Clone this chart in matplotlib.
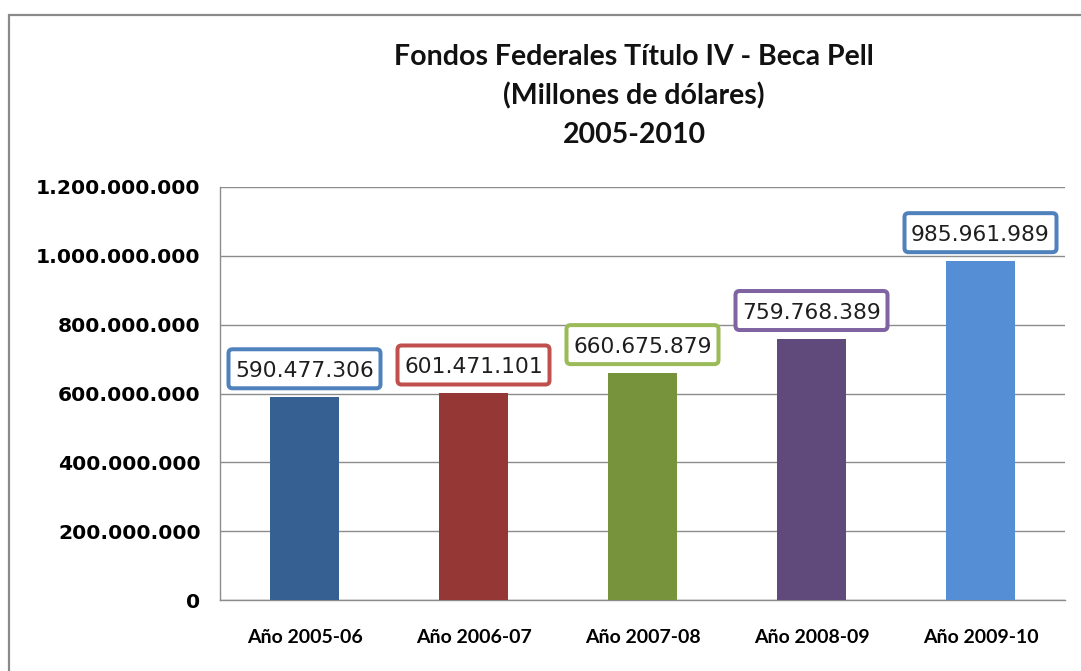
import matplotlib
matplotlib.use("Agg")
import matplotlib.pyplot as plt
from matplotlib.patches import Rectangle, FancyBboxPatch
from matplotlib.transforms import Affine2D, ScaledTranslation

categories = ["Año 2005-06", "Año 2006-07", "Año 2007-08", "Año 2008-09", "Año 2009-10"]
values = [590477306, 601471101, 660675879, 759768389, 985961989]
labels = ["590.477.306", "601.471.101", "660.675.879", "759.768.389", "985.961.989"]
bar_colors = ["#376092", "#953735", "#77933C", "#604A7B", "#558ED5"]
box_colors = ["#4F81BD", "#C0504D", "#9BBB59", "#8064A2", "#4F81BD"]
yticks = [0, 200000000, 400000000, 600000000, 800000000, 1000000000, 1200000000]
ytick_labels = ["0", "200.000.000", "400.000.000", "600.000.000", "800.000.000",
                "1.000.000.000", "1.200.000.000"]
title_lines = ["Fondos Federales Título IV - Beca Pell", "(Millones de dólares)", "2005-2010"]

W, H = 1081, 671
fig = plt.figure(figsize=(W / 100, H / 100), dpi=100)
fig.patch.set_facecolor("white")

# outer chart frame
fig.patches.append(Rectangle((9 / W, -0.1), 1.2, (H - 15) / H + 0.1, transform=fig.transFigure,
                             fill=False, edgecolor="#8a8a8a", linewidth=1.6))

left, right, top, bottom = 220, 1065, 187, 600
ax = fig.add_axes([left / W, 1 - bottom / H, (right - left) / W, (bottom - top) / H])
x = range(len(categories))
ax.bar(x, values, width=0.41, color=bar_colors, zorder=3)
ax.set_xlim(-0.5, len(categories) - 0.5)
ax.set_ylim(0, 1200000000)
ax.set_yticks(yticks)
ax.set_yticklabels(ytick_labels, fontfamily="DejaVu Sans", fontweight="bold", fontsize=14.6)
ax.set_xticks(list(x))
ax.set_xticklabels(categories, fontfamily="Lato", fontweight="bold", fontsize=14)
ax.tick_params(axis="both", length=0)
ax.tick_params(axis="y", pad=14)
ax.tick_params(axis="x", pad=21)
ax.yaxis.grid(True, color="#8c8c8c", linewidth=1.0, zorder=0)
ax.set_axisbelow(True)
for s in ["top", "right"]:
    ax.spines[s].set_visible(False)
for s in ["left", "bottom"]:
    ax.spines[s].set_color("#8c8c8c")
    ax.spines[s].set_linewidth(1.0)

# data labels: box sized in pixels, anchored above each bar top
bw, bh, off = 152, 39, 28
for i, (v, lab, ec) in enumerate(zip(values, labels, box_colors)):
    tr = Affine2D() + ScaledTranslation(i, v, ax.transData)
    box = FancyBboxPatch((-bw / 2, off - bh / 2), bw, bh,
                         boxstyle="round,pad=0,rounding_size=4",
                         facecolor="white", edgecolor=ec, linewidth=4 * 72 / 100,
                         transform=tr, zorder=5, clip_on=False)
    ax.add_patch(box)
    ax.annotate(lab, xy=(i, v), xytext=(0, off * 72 / 100), textcoords="offset points",
                ha="center", va="center_baseline", fontsize=15.7, fontfamily="DejaVu Sans",
                color="#1e1e1e", zorder=6)

baselines = [65, 104, 143]
for t, yy in zip(title_lines, baselines):
    fig.text(634 / W, 1 - yy / H, t, ha="center", va="baseline", fontsize=20.5,
             fontfamily="Lato", fontweight="bold", color="#111111")

fig.savefig("out.png", dpi=100, facecolor="white")
